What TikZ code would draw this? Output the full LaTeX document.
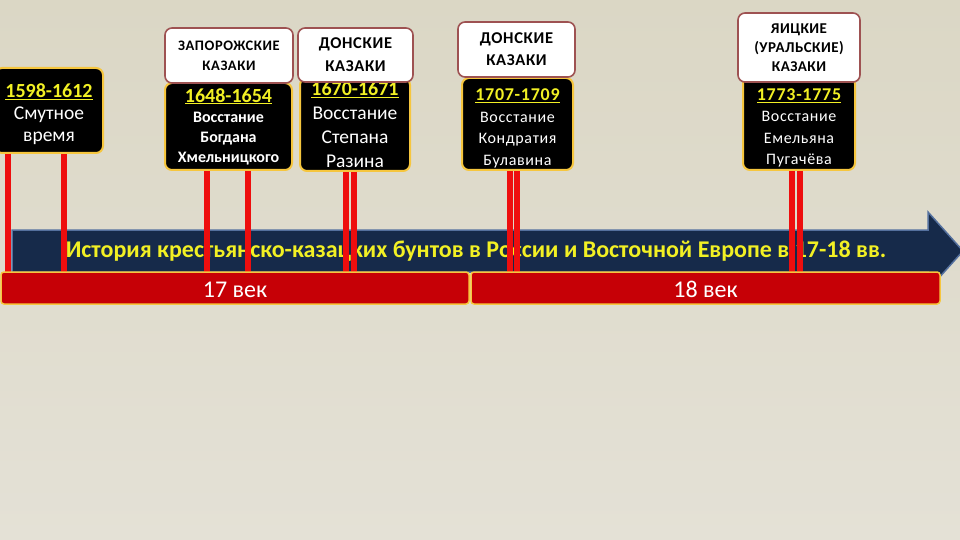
\documentclass[tikz,border=0pt]{standalone}
\usepackage{fontspec}
\setmainfont{Carlito}
\definecolor{bgtop}{RGB}{219,215,197}
\definecolor{bgbot}{RGB}{228,225,214}
\definecolor{navy}{RGB}{22,42,74}
\definecolor{navyedge}{RGB}{84,112,158}
\definecolor{gold}{RGB}{246,198,62}
\definecolor{hdredge}{RGB}{158,82,82}
\definecolor{barred}{RGB}{198,0,6}
\definecolor{polered}{RGB}{238,14,14}
\definecolor{titleyel}{RGB}{242,240,36}
\newcommand{\yrs}[1]{\textcolor{titleyel}{\textbf{\underline{#1}}}}
\usetikzlibrary{positioning}

\begin{document}
\begin{tikzpicture}[x=1pt,y=-1pt,
		evt/.style={rectangle,rounded corners=7pt,draw=gold,line width=2pt,fill=black,text=white,align=center,inner sep=0pt},
		hdr/.style={rectangle,rounded corners=7pt,draw=hdredge,line width=1.6pt,fill=white,text=black,align=center,inner sep=0pt},
		pole/.style={polered,line width=5.5pt},
		cent/.style={rectangle,rounded corners=3pt,draw=gold,line width=1.5pt,fill=barred,text=white,inner sep=0pt,text height=19pt,font=\fontsize{24}{26}\selectfont}]
	
	\useasboundingbox (0,0) rectangle (960,540);
	\shade[top color=bgtop,bottom color=bgbot] (0,0) rectangle (960,540);
	
	% timeline arrow
	\draw[fill=navy,draw=navyedge,line width=1.5pt] (12,230) -- (928,230) -- (928,212) -- (963,251) -- (928,290) -- (928,272) -- (12,272) -- cycle;
	\node[text=titleyel,font=\fontsize{24}{26}\selectfont\bfseries] (ttl) at (476,251) {История крестьянско-казацких бунтов в России и Восточной Европе в 17-18 вв.};
	
	% events
	\node[evt,minimum width=108pt,minimum height=85pt,font=\fontsize{19.5}{22}\selectfont] (e1) at (49,110.5) {\rule{0pt}{22pt}{\fontsize{20}{22}\selectfont\yrs{1598-1612}}\\Смутное\\время};
	\node[evt,minimum width=127pt,minimum height=87pt,font=\fontsize{16}{20}\selectfont\bfseries] (e2) at (228.5,126.5) {{\fontsize{20}{20}\selectfont\yrs{1648-1654}}\\Восстание\\Богдана\\Хмельницкого};
	\node[evt,minimum width=110pt,minimum height=93pt,font=\fontsize{19.5}{24}\selectfont] (e3) at (355,124.5) {{\fontsize{20}{24}\selectfont\yrs{1670-1671}}\\Восстание\\Степана\\Разина};
	\node[evt,minimum width=111pt,minimum height=92pt,font=\fontsize{16}{21.5}\selectfont\addfontfeature{LetterSpace=4}] (e4) at (517.5,124) {\rule{0pt}{21pt}{\fontsize{18}{21.5}\selectfont\yrs{1707-1709}}\\Восстание\\Кондратия\\Булавина};
	\node[evt,minimum width=112pt,minimum height=93pt,font=\fontsize{16}{21.5}\selectfont\addfontfeature{LetterSpace=4}] (e5) at (799,123.5) {\rule{0pt}{21pt}{\fontsize{18}{21.5}\selectfont\yrs{1773-1775}}\\Восстание\\Емельяна\\Пугачёва};
	
	% cossack headers
	\node[hdr,minimum width=128pt,minimum height=55pt,font=\fontsize{14.5}{20}\selectfont\bfseries\addfontfeature{LetterSpace=4}] (h2) at (229,55.5) {ЗАПОРОЖСКИЕ\\КАЗАКИ};
	\node[hdr,minimum width=115pt,minimum height=54pt,font=\fontsize{16.5}{23}\selectfont\bfseries\addfontfeature{LetterSpace=4}] (h3) at (355.5,55) {ДОНСКИЕ\\КАЗАКИ};
	\node[hdr,minimum width=117pt,minimum height=55pt,font=\fontsize{16.5}{22}\selectfont\bfseries\addfontfeature{LetterSpace=4}] (h4) at (516.5,49.5) {ДОНСКИЕ\\КАЗАКИ};
	\node[hdr,minimum width=122pt,minimum height=69pt,font=\fontsize{15}{19}\selectfont\bfseries\addfontfeature{LetterSpace=3}] (h5) at (799,47.5) {ЯИЦКИЕ\\(УРАЛЬСКИЕ)\\КАЗАКИ};
	
	% poles down to the centuries
	\foreach \b/\x in {e1/8,e1/64,e2/207,e2/248,e3/346,e3/354,e4/510,e4/517,e5/792,e5/800}{
		\coordinate (foot) at (\x,272);
		\draw[pole] (foot |- \b.south) -- (foot);
	}
	
	\node[cent,minimum width=468pt,minimum height=32pt] (c17) at (235,288) {17 век};
	\node[cent,minimum width=469pt,minimum height=32pt] (c18) at (705.5,288) {18 век};
\end{tikzpicture}
\end{document}
